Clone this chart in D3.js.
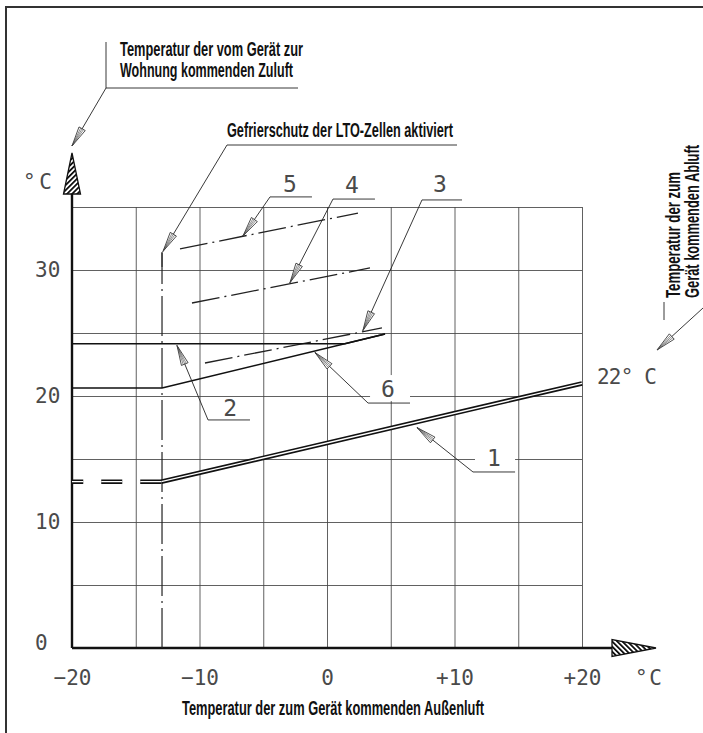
<!DOCTYPE html>
<html>
<head>
<meta charset="utf-8">
<script src="https://cdn.jsdelivr.net/npm/d3@7"></script>
<style>
  body { margin: 0; background: #fff; }
  .num { font-family: "DejaVu Sans Mono", "Liberation Mono", monospace; font-size: 21px; fill: #4a4a4a; }
  .ttl { font-family: "Liberation Sans Narrow", "Liberation Sans", Arial, sans-serif; font-size: 20px; font-weight: bold; fill: #111; }
</style>
</head>
<body>
<div id="chart"></div>
<script>
// tick labels and grid steps
var xTicks = [-20, -10, 0, 10, 20];
var xTickText = ["\u221220", "\u221210", "0", "+10", "+20"];
var yTicks = [0, 10, 20, 30];
var xGrid = [-15, -10, -5, 0, 5, 10, 15, 20];
var yGrid = [5, 10, 15, 20, 25, 30, 35];

// curves: outdoor air temp (x) -> supply air temp (y)
var line1X = [-13, 20],            line1Y = [13.2, 21.0];
var line1ExtX = [-13, -20],        line1ExtY = [13.2, 13.2];
var line2X = [-20, 1.4, 4.55],     line2Y = [24.15, 24.15, 24.92];
var line6X = [-20, -12.94, 4.55],  line6Y = [20.63, 20.63, 24.92];
var line3X = [-9.57, 4.31],        line3Y = [22.62, 25.4];
var line4X = [-10.59, 3.37],       line4Y = [27.38, 30.16];
var line5X = [-11.53, 2.43],       line5Y = [31.67, 34.52];
var frostX = -12.94, frostSolid = 30.2, frostTop = 31.4;

// curve number labels (arrow tip, leader knee, underline end, text position)
var labelNames = ["1", "2", "3", "4", "5", "6"];
var labelTip  = [[7.06, 17.5], [-11.76, 24.0], [2.82, 25.2], [-2.9, 29.0], [-6.59, 32.7], [-0.94, 23.45]];
var labelKnee = [[11.45, 13.97], [-9.33, 18.1], [7.45, 35.56], [0.47, 35.63], [-4.47, 35.8], [3.22, 19.44]];
var labelEnd  = [14.75, -6.04, 10.59, 3.76, -1.18, 6.51];
var labelPos  = [[13.1, 14.45], [-7.6, 18.4], [8.86, 36.2], [1.96, 36.1], [-2.9, 36.2], [4.78, 19.9]];
var labelGap  = [true, false, false, false, false, true];

var W = 703, H = 733;

var svg = d3.select("#chart").append("svg")
    .attr("width", W)
    .attr("height", H);

var x = d3.scaleLinear().domain([-20, 20]).range([72, 582]);
var y = d3.scaleLinear().domain([0, 35]).range([648, 207]);

var line = d3.line()
    .x(function (d) { return x(d[0]); })
    .y(function (d) { return y(d[1]); });

function pts(xs, ys) {
    return xs.map(function (v, i) { return [v, ys[i]]; });
}

// hatch patterns for the axis arrows
var defs = svg.append("defs");
defs.append("pattern")
    .attr("id", "hatchUp")
    .attr("patternUnits", "userSpaceOnUse")
    .attr("width", 3.6).attr("height", 3.6)
    .attr("patternTransform", "rotate(45)")
    .append("rect").attr("width", 1.8).attr("height", 3.6).attr("fill", "#111");
defs.append("pattern")
    .attr("id", "hatchDown")
    .attr("patternUnits", "userSpaceOnUse")
    .attr("width", 3.6).attr("height", 3.6)
    .attr("patternTransform", "rotate(-45)")
    .append("rect").attr("width", 1.8).attr("height", 3.6).attr("fill", "#111");

// frame
svg.append("path")
    .attr("d", "M6," + H + "V7H" + W)
    .attr("fill", "none")
    .attr("stroke", "#333")
    .attr("stroke-width", 2);

// grid
svg.append("g")
    .attr("transform", "translate(0," + y(0) + ")")
    .call(d3.axisBottom(x).tickValues(xGrid).tickSize(-(y(0) - y(35))).tickFormat(""))
    .call(function (g) { g.select(".domain").remove(); })
    .selectAll("line").attr("stroke", "#444").attr("stroke-width", 0.85);

svg.append("g")
    .attr("transform", "translate(" + x(-20) + ",0)")
    .call(d3.axisLeft(y).tickValues(yGrid).tickSize(-(x(20) - x(-20))).tickFormat(""))
    .call(function (g) { g.select(".domain").remove(); })
    .selectAll("line").attr("stroke", "#444").attr("stroke-width", 0.85);

// tick labels
svg.append("g")
    .attr("transform", "translate(0," + y(0) + ")")
    .call(d3.axisBottom(x).tickValues(xTicks).tickSize(0).tickPadding(37)
        .tickFormat(function (d, i) { return xTickText[i]; }))
    .call(function (g) { g.select(".domain").remove(); })
    .selectAll("text")
    .attr("class", "num")
    .attr("font-family", null).attr("font-size", null).attr("fill", null)
    .attr("dy", null);

svg.append("g")
    .attr("transform", "translate(35,0)")
    .call(d3.axisRight(y).tickValues(yTicks).tickSize(0).tickPadding(0))
    .call(function (g) { g.select(".domain").remove(); })
    .selectAll("text")
    .attr("class", "num")
    .attr("font-family", null).attr("font-size", null).attr("fill", null)
    .attr("text-anchor", "start")
    .attr("dy", function (d) { return d === 0 ? "0.05em" : "0.3em"; });

// unit labels
svg.append("text").attr("class", "num").attr("x", 23).attr("y", 189)
    .attr("textLength", 29).attr("lengthAdjust", "spacing").text("\u00b0 C");
svg.append("text").attr("class", "num").attr("x", 635).attr("y", 685)
    .attr("textLength", 27).attr("lengthAdjust", "spacing").text("\u00b0 C");
svg.append("text").attr("class", "num").attr("x", 597).attr("y", y(21.0) + 1)
    .attr("textLength", 60).attr("lengthAdjust", "spacing").text("22\u00b0 C");

// axes with hatched arrows
svg.append("line")
    .attr("x1", x(-20)).attr("x2", x(-20))
    .attr("y1", y(0)).attr("y2", 194)
    .attr("stroke", "#111").attr("stroke-width", 2.4);
svg.append("line")
    .attr("x1", x(-20)).attr("x2", 612)
    .attr("y1", y(0)).attr("y2", y(0))
    .attr("stroke", "#111").attr("stroke-width", 2.4);
svg.append("path")
    .attr("d", "M" + x(-20) + ",153L" + (x(-20) + 8.5) + ",194L" + (x(-20) - 8.5) + ",194Z")
    .attr("fill", "url(#hatchUp)")
    .attr("stroke", "#111").attr("stroke-width", 1.3);
svg.append("path")
    .attr("d", "M656," + y(0) + "L612," + (y(0) - 8.5) + "L612," + (y(0) + 8.5) + "Z")
    .attr("fill", "url(#hatchDown)")
    .attr("stroke", "#111").attr("stroke-width", 1.3);

// frost protection vertical line
svg.append("line")
    .attr("x1", x(frostX)).attr("x2", x(frostX))
    .attr("y1", y(0)).attr("y2", y(frostSolid))
    .attr("stroke", "#222").attr("stroke-width", 1.2)
    .attr("stroke-dasharray", "40,5,2,5");
svg.append("line")
    .attr("x1", x(frostX)).attr("x2", x(frostX))
    .attr("y1", y(frostSolid)).attr("y2", y(frostTop))
    .attr("stroke", "#222").attr("stroke-width", 1.6);

// dash-dot curves 3, 4, 5
[[line3X, line3Y], [line4X, line4Y], [line5X, line5Y]].forEach(function (s) {
    svg.append("path")
        .attr("d", line(pts(s[0], s[1])))
        .attr("fill", "none")
        .attr("stroke", "#222").attr("stroke-width", 1.3)
        .attr("stroke-dasharray", "28,5,2,5");
});

// solid curves 2 and 6
[[line2X, line2Y], [line6X, line6Y]].forEach(function (s) {
    svg.append("path")
        .attr("d", line(pts(s[0], s[1])))
        .attr("fill", "none")
        .attr("stroke", "#111").attr("stroke-width", 1.6);
});

// curve 1: double line, dashed to the left of the frost limit
function doubleLine(data, dash) {
    svg.append("path")
        .attr("d", line(data))
        .attr("fill", "none")
        .attr("stroke", "#111").attr("stroke-width", 4.6)
        .attr("stroke-dasharray", dash);
    svg.append("path")
        .attr("d", line(data))
        .attr("fill", "none")
        .attr("stroke", "#fff").attr("stroke-width", 1.3)
        .attr("stroke-dasharray", dash);
}
doubleLine(pts(line1X, line1Y), null);
doubleLine(pts(line1ExtX, line1ExtY), "21,18");

// open arrow head pointing at (tx,ty), coming from (fx,fy)
function arrowHead(fx, fy, tx, ty) {
    var dx = tx - fx, dy = ty - fy, len = Math.sqrt(dx * dx + dy * dy);
    var ux = dx / len, uy = dy / len, nx = -uy, ny = ux;
    var L = 20, w = 3.6;
    var bx = tx - ux * L, by = ty - uy * L;
    var g = svg.append("g");
    g.append("path")
        .attr("d", "M" + tx + "," + ty + "L" + (bx + nx * w) + "," + (by + ny * w) +
            "L" + (bx - nx * w) + "," + (by - ny * w) + "Z")
        .attr("fill", "#fff").attr("stroke", "#222").attr("stroke-width", 0.8);
    [-0.45, 0, 0.45].forEach(function (k) {
        g.append("line")
            .attr("x1", tx).attr("y1", ty)
            .attr("x2", bx + nx * w * k).attr("y2", by + ny * w * k)
            .attr("stroke", "#444").attr("stroke-width", 0.6);
    });
}

function leader(points, tip) {
    svg.append("polyline")
        .attr("points", points.concat([tip]).map(function (p) { return p.join(","); }).join(" "))
        .attr("fill", "none")
        .attr("stroke", "#222").attr("stroke-width", 0.9);
    var prev = points[points.length - 1];
    arrowHead(prev[0], prev[1], tip[0], tip[1]);
}

// curve number labels
labelNames.forEach(function (name, i) {
    var kx = x(labelKnee[i][0]), ky = y(labelKnee[i][1]);
    var ex = x(labelEnd[i]);
    if (labelGap[i]) {
        svg.append("rect")
            .attr("x", kx + 2).attr("y", ky - 28)
            .attr("width", ex - kx - 2).attr("height", 26)
            .attr("fill", "#fff");
    }
    leader([[ex, ky], [kx, ky]], [x(labelTip[i][0]), y(labelTip[i][1])]);
    svg.append("text")
        .attr("class", "num")
        .attr("x", x(labelPos[i][0])).attr("y", y(labelPos[i][1]))
        .attr("text-anchor", "middle")
        .style("font-size", "23px")
        .text(name);
});

// title annotations
svg.append("text").attr("class", "ttl").attr("x", 120).attr("y", 56)
    .attr("textLength", 183).attr("lengthAdjust", "spacingAndGlyphs")
    .text("Temperatur der vom Gerät zur");
svg.append("text").attr("class", "ttl").attr("x", 120).attr("y", 77)
    .attr("textLength", 173).attr("lengthAdjust", "spacingAndGlyphs")
    .text("Wohnung kommenden Zuluft");
svg.append("line").attr("x1", 106).attr("x2", 106).attr("y1", 42).attr("y2", 88)
    .attr("stroke", "#222").attr("stroke-width", 0.9);
leader([[298, 88], [106, 88]], [x(-20), 146]);

svg.append("text").attr("class", "ttl").attr("x", 227).attr("y", 137)
    .attr("textLength", 226).attr("lengthAdjust", "spacingAndGlyphs")
    .text("Gefrierschutz der LTO-Zellen aktiviert");
leader([[457, 145], [227, 145]], [x(frostX) + 1, y(frostTop) - 1]);

svg.append("text").attr("class", "ttl").attr("x", 182).attr("y", 715)
    .attr("textLength", 302).attr("lengthAdjust", "spacingAndGlyphs")
    .text("Temperatur der zum Gerät kommenden Außenluft");

svg.append("text").attr("class", "ttl")
    .attr("transform", "translate(680,298) rotate(-90)")
    .attr("textLength", 126).attr("lengthAdjust", "spacingAndGlyphs")
    .text("Temperatur der zum");
svg.append("text").attr("class", "ttl")
    .attr("transform", "translate(699,298) rotate(-90)")
    .attr("textLength", 153).attr("lengthAdjust", "spacingAndGlyphs")
    .text("Gerät kommenden Abluft");
svg.append("line").attr("x1", 664).attr("x2", 664).attr("y1", 302).attr("y2", 320)
    .attr("stroke", "#222").attr("stroke-width", 0.9);
leader([[703, 308]], [657, 350]);
</script>
</body>
</html>
